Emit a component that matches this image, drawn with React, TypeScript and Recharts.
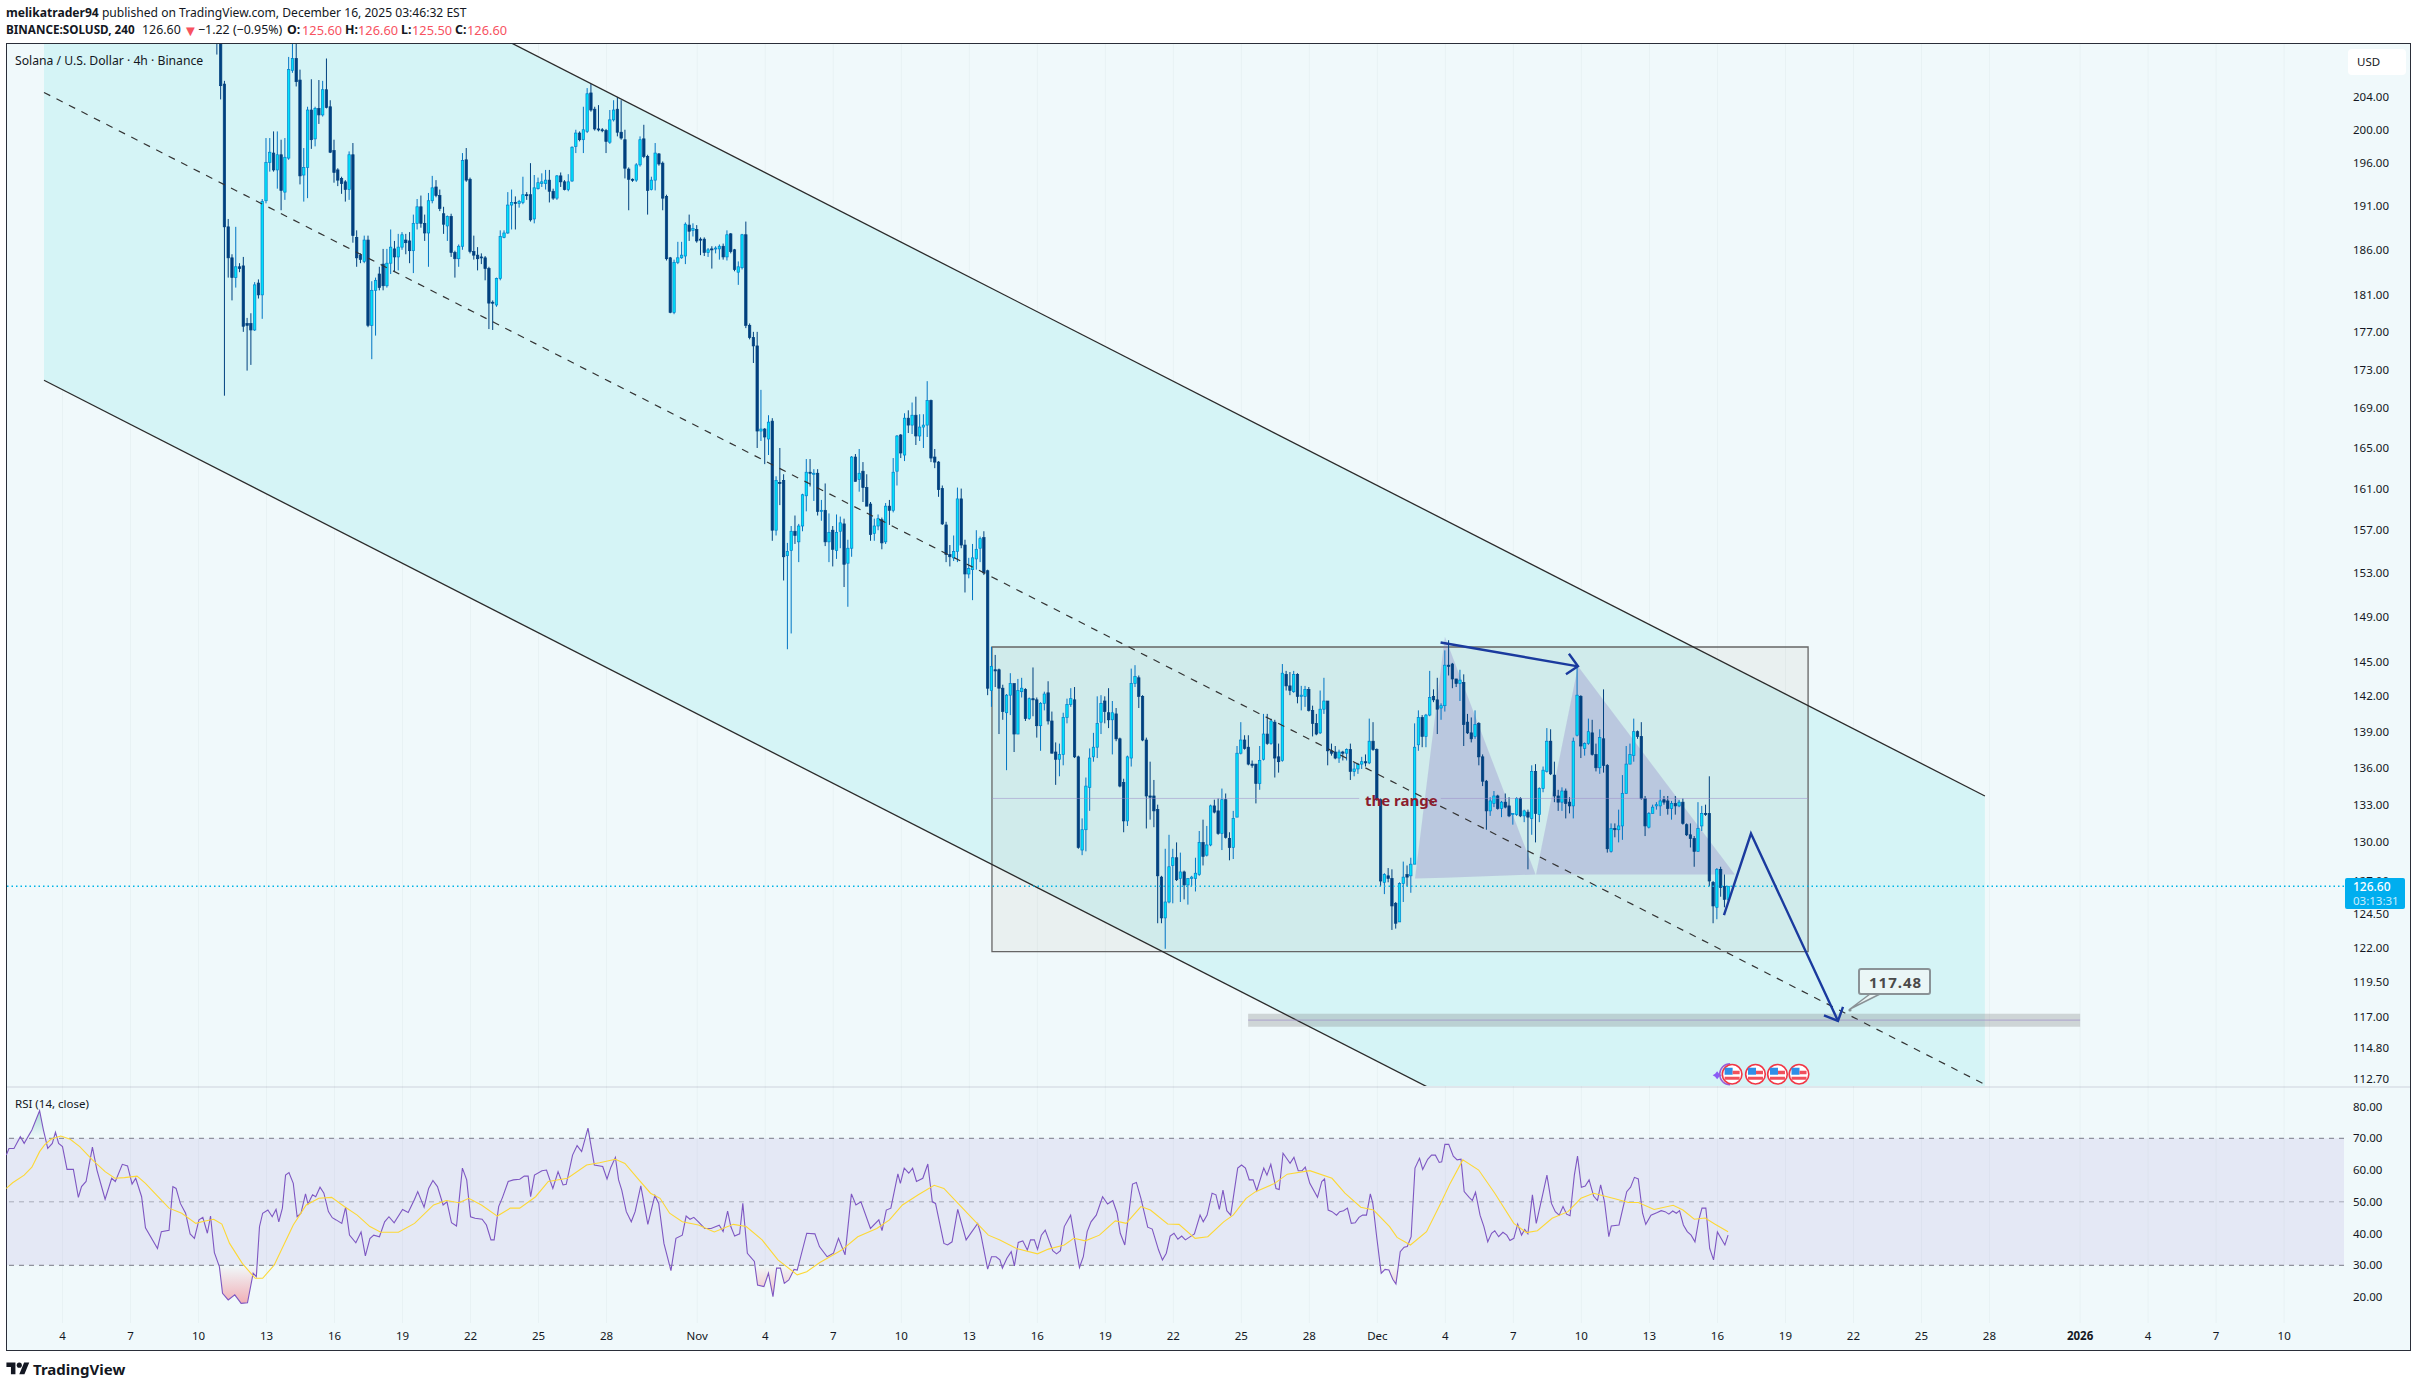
import { Area, Bar, CartesianGrid, ComposedChart, Line, ReferenceArea, ReferenceDot, ReferenceLine, XAxis, YAxis } from "recharts";

// day numbers count from Oct 1 2025 = 0, 4h candles are 1/6 day apart
const firstCandleDay = 9.81;
const opens = [
  222,213,205.6,188.6,185.1,182.9,184.1,184.2,177.9,177.9,
  177.2,182.3,181,191.6,196.1,197.2,195.2,197,192.6,196.6,
  207.3,208.8,206.1,194.6,195.5,202.4,198.9,202.6,201.8,204.9,
  202.8,197.5,195.2,194.2,193.8,192.9,197,187.4,185.4,184.7,
  187.1,177.7,181.5,183.3,184.4,182,184.5,186.1,185.2,186.3,
  187.1,187,185.9,189,190.9,189,187.9,191.6,193.2,192.2,
  190.1,188.7,189.8,185.7,185,186.4,196.4,194.1,185.8,185.4,
  185.2,185.1,183.9,180.2,179.9,182.8,187.4,187.9,191.1,191.4,
  191.3,191.4,192.3,192.3,189.5,193,193.6,193.6,194,192.7,
  191.9,194.5,193.8,192.9,193.9,198,199.6,198.8,199.8,204.5,
  202.5,200.1,200,199.9,198.5,201.2,202.5,199.7,198.8,195.3,
  194.1,194,195.8,198.9,196.8,192.9,194,197.1,196,192.1,
  185.1,179.1,184.6,185.1,185.3,188.8,188.2,188.3,187.2,187.2,
  185.7,186.1,186.1,186.1,186.4,185.2,187.8,186,183.5,184,
  187.7,177.7,176.4,175.5,166.7,166.9,165.9,167.7,157,161.6,
  161.8,154.6,155.1,156.9,155.9,157.4,160.3,162.6,162.4,162.5,
  158.8,158.9,155.9,157,155.1,156.9,157.6,153.9,155.3,164.1,
  161.9,162.7,161.1,159.5,156.7,157.4,158,155.9,159.3,158.9,
  162.7,166.3,164.3,168,167.3,168.3,166.2,167.1,167.3,169.8,
  164.1,163.6,161,157.5,154.7,154.4,155,160,155.6,152.9,
  153.3,154.3,155.3,156.3,153.2,142.5,144.3,144.3,142.7,140.6,
  142.1,143.1,138.8,142.4,142.6,140.1,141.8,141.7,139.5,141.4,
  142.3,139.9,137.3,136.7,137.1,140.2,141.3,141.7,136.9,129.4,
  131,134.4,136.9,137.7,139.8,141.6,140.6,140,140.5,138.4,
  134.8,131.7,136.8,143.1,143.6,142,138.3,133.7,133.7,132.6,
  127.3,124.2,125.4,128.2,128.8,127.2,127.7,126.7,127.2,127.2,
  127.5,130,129,129.8,132.9,132.5,130.7,133.4,130.3,129.6,
  132,137.2,138.3,137.7,136.3,136.3,134.7,136.7,138.8,138,
  139.8,136.9,136.6,143.9,142.9,142.4,143.9,142,142,142.6,
  140.8,139.7,138.9,140.9,141.6,137.4,137.3,136.8,137.3,137.2,
  137.5,135.7,135.9,136.3,136.5,136.4,138.2,137.5,133.4,126.9,
  127.4,127.2,125.3,123.9,126.8,127.5,127.4,128.3,137.9,140.2,
  138.6,140.4,142,141.7,141,141.2,144.7,144.8,143.5,143.1,
  143.2,139.8,138.9,138.6,139.7,136.9,134.9,132.5,133.1,133.7,
  132.7,133.2,132.9,132.2,132.2,133.5,132.1,132.4,131.9,135.7,
  132.2,134.3,135.7,138.2,135.4,133.7,133.2,134.1,133.2,132.9,
  138.7,142,137.6,138,138.9,137.1,136,138.4,136.2,129.3,
  131.1,131,131.3,133.9,136.3,137,139,138.6,133.5,131.2,
  132.3,132.9,132.9,133.4,133.3,132.7,133.1,132.9,133.2,131.4,
  130.6,130.3,129.3,131.3,132.3,132.3,126.9,125,127.9,126.6,125.6,
];
const highs = [
  224,214,206,189.5,185.5,188.6,184.5,185.2,178.5,179,
  182.4,182.7,191.8,199,199,199.8,199.8,198.8,199,209,
  210.8,211.5,207.4,197.8,202.8,206.2,202.8,206.1,206,208.8,
  203.6,198.8,195.4,194.4,194,197.4,198.4,188.2,185.6,187.6,
  187.6,182.5,182.9,184.1,186.1,186.1,188.3,187,187.8,188,
  187.8,188,190,191.8,192.2,190,192.5,194.5,194,192.9,
  190.9,189.9,190.1,185.9,186.6,197.2,197.8,194.3,187.6,186.3,
  185.6,185.3,184.1,180.4,182.9,188.2,188.2,192.6,192.9,192.1,
  191.7,194.4,192.6,196,194.6,194.3,194.8,195.2,195.2,193,
  194.6,194.9,194,194.7,198,200,199.8,202.8,205.1,205.6,
  202.8,203,200.2,200.1,202.4,203.6,204,203.6,200,195.5,
  194.2,196,199.2,200.6,197,194.4,198.4,197.2,196.2,192.3,
  185.2,184.9,186.9,186.9,189.1,190,189,188.8,187.4,187.4,
  186.2,186.4,186.4,186.6,186.7,188.2,187.9,186.1,184.7,187.8,
  189.2,177.9,177,177,170.9,167,168.3,168,162.2,165,
  162.4,155.8,157.4,158.4,157.6,160.5,163.9,163.9,162.9,162.9,
  159.9,161.5,158.6,157.4,158.5,158.3,158.1,156.1,164.2,164.4,
  164.9,163.6,162.4,159.7,158.1,158.5,158.2,159.6,159.9,164,
  166.3,166.4,168.5,168.8,169.6,170.2,168.4,168.4,171.8,169.9,
  164.9,163.7,161.3,157.8,155.6,156.5,161.1,161,156.1,154.4,
  155.7,157,156.4,156.9,153.3,146.3,145.6,144.4,143,142.2,
  144,143.1,143.5,143.6,142.7,141.9,144.5,141.9,141.5,142.4,
  143.3,140.7,138.1,138,140.6,141.8,142.7,142.8,137,131.9,
  135.2,137.6,138.9,142,142.1,142,142.7,141.6,141,138.5,
  135.1,137,144.4,144.7,143.8,142.1,138.5,136.5,135,133,
  127.4,129.5,130.6,129.5,130,129.2,127.8,127.2,127.4,128.8,
  130.9,131.8,131.3,133,133.4,133.5,134.3,133.9,130.8,132.5,
  137.8,139.8,138.7,138.7,136.6,136.3,137.8,140.5,140.5,140.1,
  140,138,144.8,144.2,144.1,144.2,144,142.9,142.9,142.8,
  141.2,140.5,142.5,143.6,141.6,138,137.8,137.5,137.4,137.6,
  138,136.4,136.4,136.9,137.1,140.1,139.8,137.6,133.5,127.6,
  128,127.9,125.4,126.9,128.5,128.2,128.8,139.7,140.8,140.4,
  140.5,144.2,142.6,143.6,141.4,146,146.9,144.9,143.5,144.3,
  143.9,140.5,140.2,140.8,139.8,137.1,135,133.6,134.1,133.8,
  133.3,133.9,133.6,132.3,133.6,133.6,132.6,132.6,136.2,136.3,
  134.4,136.1,139.3,139.2,136.5,134.2,134.4,134.3,133.6,138.5,
  144.5,142.1,138.1,140.1,140,138,139.2,142.6,136.3,131.5,
  131.5,132.6,135.4,137.8,138,140.1,139.1,139.8,133.7,132.4,
  133,133.2,134.2,133.7,133.7,133.3,133.7,133.4,133.5,131.5,
  131.5,130.5,133.2,132.9,133,135.3,127,128,128.1,127.5,126.6,
];
const lows = [
  209.3,203.7,170.3,182.9,180.4,181.8,183.5,177,172.9,173.5,
  177.1,180.6,178.4,191.3,195,195,193,190.5,191.7,196.4,
  207,205.3,193.5,191.5,191.9,197.7,198,200.7,201.6,202.6,
  197.2,193.7,193.3,192.4,191.5,191.7,186.8,184.1,184.5,184.5,
  177.5,174.1,176.6,181.5,181.5,181.8,183.3,183.6,183.7,186,
  185.5,184.5,183.4,188.3,188.5,187,184.1,191.3,192,190.4,
  187.8,187,185.2,182.9,184.1,186,193.8,185.6,184.9,183.7,
  184.4,182.6,177.3,177.2,179.7,182.6,187.3,187.8,188.3,188.3,
  190.8,191.2,191.7,189.2,189,192.9,193.2,192.9,191.4,191.7,
  191.7,193.2,192.8,192.7,193.8,197.2,198.6,197.2,199.6,202.2,
  199.9,199.8,199.7,197.2,198.3,201,199.2,198.8,194.2,190.5,
  193.8,193.8,195.6,196.6,190,192.8,192.8,195.7,190.5,184.8,
  179,178.9,184.4,185,184.4,187,187.5,186.8,185.4,185.3,
  185.2,183.9,185.6,184.9,184.9,184.8,185.6,183.6,182.1,183.8,
  177.4,176.2,173.7,165,165.7,163.4,164.3,156,156.5,159.4,
  152.3,146.1,147.5,155.7,154,156.9,158.8,161.2,159.8,158.4,
  157.9,155.5,154,153.6,154.3,155.3,151.7,149.9,154.5,161.7,
  160.7,159.7,159.3,156,156,157,155.2,155.7,157.5,158.7,
  161.3,164,163.7,166.5,166.4,165.3,165.7,165,166.1,163.6,
  163,160.2,157.5,154,153.6,154.1,154,155.3,151.2,152.5,
  150.5,153.3,154,152.8,142.1,141.1,142.8,138.8,140,135.8,
  140.4,137.3,138.8,141.9,139.9,140,140.3,138.5,137.4,140.8,
  139.6,137.2,134.6,135.3,136.2,139.7,141.1,136.8,129.5,129,
  129.3,132.5,136.5,136.8,138.8,139.7,139.3,137.1,138.2,134.4,
  130.8,131.3,136.1,142.8,141,138.2,131.1,131.8,131.2,123.8,
  123.8,121.9,125.3,125.3,127,125.4,125.6,125.2,126.6,126.2,
  127.4,128.2,128.9,129.7,132.3,130.6,129.4,130.3,128.6,128.7,
  132,137.1,137.5,136.2,136,133.1,134.2,136.6,137.9,137.9,
  135.2,135.6,136.5,142.5,142.1,142.3,141.4,140.8,141.1,140.7,
  138.6,138.7,138.8,140.5,136.2,137,136.7,136.4,136.6,136.6,
  135,135.3,135.5,135.9,136.1,136.3,137.4,133.3,126.6,126,
  126.9,123.3,123.4,123.9,125.4,126.6,126.1,128.3,137.4,137.7,
  137.7,140.3,141.5,138.8,140,140.7,143.8,142.7,142.8,141.6,
  137.8,138.8,138.1,138.4,136.2,134.5,131,132.1,132.8,132.6,
  132,132.7,132,131.4,132.1,132,131.6,127.9,130.6,130,
  131.6,134,135.6,135.4,133.2,132.5,132.5,131.9,132.3,131.9,
  138.6,136.8,137,137.9,137,135.7,135.5,135.6,129.2,129.2,
  130.4,130,130.2,133.9,136.3,136.5,138.4,133.4,130.5,131.1,
  132.3,132.6,132.1,133,132.2,131.8,132.2,132.8,131.4,130.5,
  129.6,128.1,129.3,130.9,132.1,126.6,123.8,124.1,125.8,125,125.5,
];
const closes = [
  213,205.4,188.6,185.1,182.9,184.1,183.9,177.6,177.7,177.2,
  182.1,181,191.5,196.1,197.3,195.2,197,192.8,196.7,207.4,
  208.8,205.9,194.5,195.5,202.4,198.8,202.6,201.8,204.9,202.7,
  197.3,194.9,194,193.6,192.9,197,187.6,185.1,184.9,187.1,
  177.7,181.5,182.6,181.8,182,184.5,186.3,185.2,186.3,187.7,
  186.8,185.9,189,190.9,189,187.9,191.6,193.1,192.2,190.7,
  188.9,189.8,185.7,185,186.4,196.3,194,185.8,185.4,185,
  185.1,183.9,180.1,180.1,182.8,187.5,187.9,191.1,191.4,191.3,
  191.5,192.3,192.2,189.4,193.1,193.7,193.8,194,192.7,191.9,
  194.5,193.8,192.9,193.8,197.9,199.6,198.8,200,204.4,202.4,
  200.1,200,199.9,198.6,201.2,202.4,199.7,199,195.4,194.1,
  194,195.8,198.8,196.8,192.8,194,197.2,195.9,191.9,185,
  179.1,184.6,185.1,185.4,188.9,188.1,188.4,187,187.1,185.7,
  186,186,186.2,186.4,185.2,187.7,185.8,183.8,184.1,187.7,
  177.7,176.4,175.5,166.7,166.9,166.1,167.6,157,161.8,161.5,
  154.5,155,156.9,156.5,157.4,160.4,162.6,162.5,162.5,158.8,
  158.9,155.9,156.8,155.2,156.8,157.7,153.8,155.3,164.1,161.7,
  162.5,161.1,159.3,156.6,157.4,158.1,155.8,159.3,158.9,162.6,
  166.2,164.5,168,167.3,168.3,166.2,167.1,167.3,169.8,164,
  163.6,160.9,157.6,154.7,154.5,155,160,155.6,152.9,153.4,
  154.4,155.2,156.2,153,142.7,144.6,144.2,142.7,140.7,142.1,
  143.1,138.8,142.5,142.7,140.1,141.8,141.7,139.5,141.4,142.2,
  139.9,137.2,136.7,137.1,140.2,141.3,141.8,136.9,129.6,131,
  134.5,136.8,137.7,139.7,141.4,140.7,140,140.6,138.4,134.5,
  131.7,136.9,143.1,143.7,142,138.3,133.7,133.6,132.5,127.4,
  124.2,125.4,128.1,128.8,127.1,127.7,126.7,127.2,127.3,127.6,
  130,128.9,129.8,132.9,132.4,130.7,133.4,130.4,129.6,131.9,
  137.2,138.3,137.6,136.3,136.2,134.7,136.6,138.8,138,139.9,
  136.8,136.5,144,142.9,142.5,143.9,142,142.1,142.6,140.8,
  139.7,138.8,140.9,141.6,137.4,137.2,136.8,137.3,137.2,137.5,
  135.7,135.9,136.3,136.5,136.4,138.2,137.5,133.4,127,127.5,
  127.2,125.1,123.8,126.8,127.3,127.3,128.3,137.7,140.2,138.6,
  140.4,141.9,141.7,140.9,141.2,144.7,144.6,143.5,143.1,143.4,
  139.6,138.9,138.4,139.6,136.9,134.9,132.5,133.3,133.7,132.7,
  133.2,132.8,132.1,132.3,133.5,132.1,132.5,132,135.7,132.3,
  134.3,135.8,138.2,135.5,133.7,133.2,134.1,133.1,132.9,138.2,
  142.1,137.8,138,139,137.1,136,138.5,136.2,129.5,131.1,
  131,131.3,133.9,136.3,137.1,139,138.6,133.5,131.3,132.3,
  132.8,133,133.3,133.2,132.7,133.1,132.9,133.2,131.5,130.6,
  130.3,129.3,131.1,132.3,132.2,127,125.1,127.9,126.5,125.6,126.6,
];

const rsiDays = [
  0.52,0.64,0.86,1.14,1.31,1.65,1.99,2.16,2.35,2.55,2.69,2.83,3,3.2,3.48,3.7,3.84,4.04,4.32,4.52,4.88,5.17,5.33,5.64,5.87,6.07,6.23,6.49,6.66,7.19,7.36,7.7,7.87,8.01,8.2,8.43,8.63,8.82,9.02,9.19,9.39,9.53,9.7,9.92,10.06,10.31,10.6,10.88,11.16,11.41,11.55,11.69,11.83,12.06,12.25,12.42,12.54,12.7,12.84,12.99,13.18,13.35,13.52,13.72,13.83,14.03,14.17,14.36,14.53,14.73,14.9,15.07,15.32,15.49,15.66,15.94,16.17,16.36,16.56,16.73,16.98,17.21,17.4,17.63,18,18.25,18.53,18.67,18.95,19.15,19.34,19.54,19.79,19.96,20.16,20.38,20.64,20.83,21,21.2,21.51,21.7,21.9,22.04,22.24,22.41,22.66,22.89,23.17,23.37,23.54,23.65,23.82,24.15,24.35,24.63,24.86,25.08,25.22,25.5,25.7,25.9,26.18,26.46,26.83,27.02,27.19,27.39,27.53,27.67,27.87,28.09,28.26,28.51,28.82,29.13,29.3,29.53,29.84,30.06,30.34,30.51,30.68,30.85,31.05,31.33,31.61,31.97,32.14,32.34,32.48,32.65,32.87,33.01,33.21,33.52,33.66,33.94,34.14,34.34,34.5,34.67,34.84,35.04,35.27,35.41,35.83,36.19,36.39,36.73,37.01,37.23,37.52,37.8,38,38.22,38.64,39.01,39.15,39.34,39.54,39.85,39.96,40.13,40.33,40.5,40.67,40.95,41.17,41.37,41.51,41.88,42.04,42.24,42.49,42.72,42.86,43.37,43.5,43.81,43.98,44.18,44.35,
  44.46,44.66,44.85,44.99,45.16,45.36,45.56,45.7,45.87,46.01,46.18,46.35,46.68,46.85,47.02,47.19,47.47,47.86,48.03,48.2,48.37,48.6,48.88,49.1,49.33,49.52,49.66,49.86,50.2,50.37,50.57,50.87,51.07,51.35,51.52,51.69,51.86,52.03,52.2,52.37,52.53,52.7,52.93,53.18,53.32,53.49,53.71,53.88,54.03,54.19,54.36,54.53,54.84,55.01,55.18,55.35,55.52,55.68,55.99,56.13,56.3,56.53,56.67,56.84,57.15,57.32,57.51,57.68,57.82,58.02,58.36,58.55,58.67,58.83,59,59.2,59.34,59.51,59.68,59.85,60.02,60.19,60.35,60.52,60.69,60.8,60.97,61.17,61.34,61.51,61.68,61.82,62.01,62.18,62.32,62.49,62.66,62.86,63,63.22,63.39,63.56,63.73,63.84,63.98,64.15,64.35,64.52,64.69,64.83,65.05,65.19,65.33,65.53,65.7,65.87,66.04,66.18,66.35,66.54,66.71,66.85,67.02,67.19,67.36,67.5,67.64,67.84,68.01,68.29,68.48,68.68,68.85,69.02,69.19,69.35,69.5,69.69,69.83,70,70.17,70.34,70.54,70.71,70.85,71.02,71.21,71.32,71.66,72,72.17,72.34,72.51,72.7,72.84,73.07,73.35,73.52,73.69,73.86,74.03,74.19,74.33,74.5,74.67,74.84,75.01,75.18,75.32,75.49,75.66,75.83,76,76.33,76.47,
];
const rsiValues = [
  64.7,66.8,66.8,70.5,68.4,72.6,78.7,72.6,66.8,68.4,71.9,68.4,67.4,60.2,60.2,51.4,54.8,56.4,67.2,60,50.8,57.4,56.4,61.8,61.3,55.6,57.4,51.6,41.8,35.3,40.6,41,54.8,54.2,49.5,46.4,39.9,38.5,44.3,45.1,40.1,45.5,34,29.6,21.2,19.1,20.7,18,18.2,27.5,26.4,42.2,46.4,47.4,45.3,47.6,43.7,48,58.4,59.2,55.8,45.3,46.4,52.5,49.3,52.2,51.6,54.6,52.7,46.9,45,44.3,43.2,48.3,39.5,37.1,40.5,33,38.4,39.5,39,43.7,45.3,43.4,47.6,46.6,50.8,53.2,48.3,54.2,56.7,54.8,49,50,43.4,42.4,60.6,56.9,45.3,44.8,44.5,42.7,38,38,48.5,51.4,56.4,56.9,57.1,58.1,58.1,51.6,58.4,59.8,60,54.2,59.5,55.3,55.5,64.7,67.7,65.8,73.2,61.6,61.1,57.2,60.9,64,56.9,53.7,46.9,43.7,46.9,55,42.9,52,49.5,36.9,28.3,38.5,39.5,45.5,44.5,45.1,43.7,41.6,41.6,42.6,40.6,47.1,42.2,39.2,39.9,49.5,33.8,31.2,23.8,23.3,27.5,20.1,29.1,29.1,24.3,25.4,28.7,28.5,40.1,39.9,35.9,32.7,33.8,38.5,33.3,52.5,49,50,41.6,44.3,40.9,47.4,48,58.8,55.8,60.6,59,60.6,56.4,57.4,61.9,50,49.5,36.9,36.4,37.4,47.6,41.6,38,43.2,40.1,28.8,32.7,32.7,31.7,
  29.1,32.2,34.3,29.8,37.2,37.7,34.8,38,38,35,39.5,41.1,34.6,33.6,34.6,42.2,45.8,29.3,32.7,40.6,43.7,45.8,51.6,49.3,50.4,46.4,40.1,36.4,55.6,56.1,51.1,42,41.4,34.8,31.7,33.8,39.2,40.1,38.2,39.2,38,38.8,39.9,45.8,43.7,45.8,52.7,52.2,47.6,53.7,47.2,45.8,60.6,61.6,60.6,56.9,56.9,53.5,60.6,58.4,61.8,54.2,53.9,65.3,62.1,64,59.8,59.8,60.9,55.8,51.4,56.4,57.2,47.4,46.9,45.8,46.9,47.2,48,43.2,43.4,45.1,45.8,45.8,52.5,49.5,39,27.5,28.7,28.5,25.6,24.1,34.3,35.7,35.9,39,60.6,63.7,60.2,63.4,64.7,64.7,62.4,62.6,68.1,68.1,64.4,63.2,63.4,53.2,51.4,50.4,53,45.8,42.2,37.4,40.1,40.9,39,40.4,39.5,37.8,38.5,43,39.5,41.3,39.9,52.2,43.2,52.2,58.4,49.5,46.9,45.8,48.5,46.1,45.6,58.4,64.4,54.6,55,56.9,51.8,50.4,55.3,50,39,42.4,42.7,53.2,54.6,57.7,57.2,46.4,42.9,45.8,46.6,47.2,46.9,46.1,47.1,46.4,47.2,42.7,40.6,39.5,37.4,44.3,48,48,35.3,31.7,40.5,36.4,39.5,
];
const smaDays = [
  0.52,0.8,1.31,1.65,1.99,2.21,2.49,2.92,3.34,3.76,4.32,4.88,5.31,5.73,6.29,6.66,7.14,7.7,8.26,8.88,9.24,9.67,10.03,10.37,10.93,11.5,11.83,12.34,12.76,13.18,13.75,14.31,14.87,15.43,16,16.56,17.04,17.82,18.53,19.37,19.93,20.5,20.92,21.48,22.18,22.75,23.17,23.87,24.43,25.28,26.12,26.69,27.39,27.81,28.37,28.94,29.36,29.78,30.34,31.05,31.75,32.59,33.16,33.86,34.56,35.41,35.83,36.39,37.37,38.08,38.92,39.48,40.05,40.75,41.45,41.88,42.44,43.28,43.84,44.35,
  45.08,46.01,46.49,47.19,47.61,48.12,48.74,49.44,49.92,50.57,50.99,51.75,52.25,52.96,53.52,54.22,54.64,55.21,55.63,56.47,57.03,58.02,59,59.57,60.27,60.83,61.54,61.87,62.46,63.17,63.79,64.21,64.77,65.47,66.18,67.02,67.58,68.06,68.71,69.41,69.98,70.54,71.52,72.08,72.51,73.21,74.05,74.48,74.98,75.46,75.88,76.47,
];
const smaValues = [
  54.2,56,58.4,60.9,65.8,67.9,69.7,70.7,69.7,67.4,63.2,59.5,57.4,57.6,58.1,55.8,52.2,48,46.4,43.2,43.9,44.5,43,36.9,30.6,25.9,25.9,30.1,36.4,42.7,49,51.1,51.4,48.5,45.8,42.2,40.4,40.4,43.2,49,50.4,49.7,51.1,49,45.5,48,48,51.6,56.4,57.4,61.6,62.3,63.4,62.1,57.4,52.7,51.1,46.4,43.7,42.7,40.5,42.9,42.2,38,31.7,27,28,30.8,34.8,39,41.6,44.3,49,52.2,55.2,54.2,50,43.7,39.5,38,
  35.3,33.6,35.1,36.4,38.5,37.7,39.5,44,43.2,48.5,47.4,43,42.9,38.5,39,43.7,45.8,51.1,53.2,55.8,58.7,59.8,57.4,52.7,48.3,47.4,42.2,38.8,36.4,40.6,49.5,55.8,63.2,60,52.7,43.2,40.3,40.9,44.8,46.9,51.1,52.7,50.9,49.8,49.8,47.6,48.9,47.4,44.5,44.9,43,40.6,
];

const priceTicks = [204, 200, 196, 191, 186, 181, 177, 173, 169, 165, 161, 157, 153, 149, 145, 142, 139, 136, 133, 130, 127, 124.5, 122, 119.5, 117, 114.8, 112.7];
const rsiTicks = [20, 30, 40, 50, 60, 70, 80];
const dayTicks = [3, 6, 9, 12, 15, 18, 21, 24, 27, 31, 34, 37, 40, 43, 46, 49, 52, 55, 58, 61, 64, 67, 70, 73, 76, 79, 82, 85, 88, 92, 95, 98, 101];
const dayLabels = ["4", "7", "10", "13", "16", "19", "22", "25", "28", "Nov", "4", "7", "10", "13", "16", "19", "22", "25", "28", "Dec", "4", "7", "10", "13", "16", "19", "22", "25", "28", "2026", "4", "7", "10"];

const lastPrice = 126.6;

// drawings on the chart, in (day, price)
const channelDays = [2.184, 87.8];
const channelUpper = [243.5, 133.7];
const channelMiddle = [204.56, 112.3];
const channelLower = [171.9, 94.4];
const rangeBox = { x1: 44, x2: 80, y1: 121.7, y2: 146.3, mid: 133.5, gapFrom: 60.2, gapTo: 63.8 };
const targetBand = { x1: 55.3, x2: 92, y1: 116.3, y2: 117.2, mid: 116.76 };
const shoulderLeft = [
  { day: 62.66, range: [127.2, 127.2] },
  { day: 63.98, range: [127.25, 147.2] },
  { day: 67.98, range: [127.5, 127.5] },
];
const shoulderRight = [
  { day: 68, range: [127.5, 127.5] },
  { day: 69.85, range: [127.5, 144.6] },
  { day: 76.77, range: [127.5, 127.5] },
];
const topArrow = [{ day: 63.79, price: 146.7 }, { day: 69.85, price: 144.6 }];
const topArrowHead = [{ day: 69.45, price: 145.7 }, { day: 69.85, price: 144.6 }, { day: 69.32, price: 143.9 }];
const pathArrow = [{ day: 76.29, price: 124.4 }, { day: 77.48, price: 130.7 }, { day: 81.32, price: 116.7 }];
const pathArrowHead = [{ day: 80.7, price: 117.1 }, { day: 81.32, price: 116.7 }, { day: 81.54, price: 117.7 }];
const eventDays = [76.65, 77.68, 78.65, 79.6];
const eventPrice = 113;

const candles = closes.map((close, i) => ({
  day: firstCandleDay + i / 6,
  open: opens[i],
  high: highs[i],
  low: lows[i],
  close,
}));
const rsiRows = rsiValues.map((value, i) => ({
  day: rsiDays[i],
  value,
  oversold: [Math.min(value, 30), 30],
  overbought: [70, Math.max(value, 70)],
}));
const smaRows = smaValues.map((value, i) => ({ day: smaDays[i], value }));
const channelRows = channelDays.map((day, i) => ({
  day,
  band: [channelLower[i], channelUpper[i]],
  upper: channelUpper[i],
  middle: channelMiddle[i],
  lower: channelLower[i],
}));

const FONT = '"Noto Sans", sans-serif';
const TEXT = "#131722";
const PLOT_WIDTH = 2404;
const dayDomain = [0.508, 103.64];

function Candle(props: any) {
  const { x, y, width, height, payload } = props;
  const { open, high, low, close } = payload;
  const span = Math.log(high) - Math.log(low);
  const yOf = (p: number) => y + (height * (Math.log(high) - Math.log(p))) / span;
  const up = close >= open;
  const mid = x + width / 2;
  const top = yOf(Math.max(open, close));
  const bottom = yOf(Math.min(open, close));
  return (
    <g>
      <line x1={mid} x2={mid} y1={y} y2={y + height} stroke={up ? "#0074c4" : "#00407f"} strokeWidth={1} />
      <rect
        x={mid - 1.2}
        y={top}
        width={2.4}
        height={Math.max(bottom - top, 1)}
        fill={up ? "#00e0fa" : "#00407f"}
        stroke={up ? "#0080cc" : "#00407f"}
        strokeWidth={0.7}
      />
    </g>
  );
}

function FlagIcon(props: any) {
  const { cx, cy, index } = props;
  return (
    <g>
      {index === 0 && (
        <g>
          <path d={`M${cx - 15} ${cy - 3}l2 2.5l2.5 1.5l-2.5 1.5l-2 2.5l-2 -2.5l-2.5 -1.5l2.5 -1.5z`} fill="#8b5cf6" />
          <path d={`M${cx + 3} ${cy - 10.5}a10.5 10.5 0 0 0 0 21`} transform={`translate(-5 0)`} fill="none" stroke="#9c5cd6" strokeWidth={1.5} />
        </g>
      )}
      <circle cx={cx} cy={cy} r={9.8} fill="#fff" stroke="#f23645" strokeWidth={1.6} />
      <rect x={cx - 7.5} y={cy - 6.5} width={8} height={7} fill="#2f8fe8" />
      <rect x={cx + 0.5} y={cy - 3.5} width={7} height={3.5} fill="#f0505c" />
      <rect x={cx - 7.5} y={cy + 2.5} width={15} height={3} fill="#f0505c" />
    </g>
  );
}

function DayTick(props: any) {
  const { x, y, index } = props;
  const label = dayLabels[index];
  return (
    <text x={x} y={y + 9} textAnchor="middle" fontFamily={FONT} fontSize={11.5} fontWeight={label === "2026" ? 700 : 400} fill={TEXT}>
      {label}
    </text>
  );
}

function thin({ rows, dataKey = "price", color = "#1a3a9e", width = 2.4, dash }: any) {
  return (
    <Line
      data={rows}
      dataKey={dataKey}
      type="linear"
      stroke={color}
      strokeWidth={width}
      strokeDasharray={dash}
      dot={false}
      activeDot={false}
      legendType="none"
      isAnimationActive={false}
    />
  );
}

function MainPane() {
  return (
    <ComposedChart width={PLOT_WIDTH} height={1042} data={candles} margin={{ top: 0, right: 0, bottom: 0, left: 0 }}>
      <CartesianGrid horizontal={false} verticalValues={dayTicks} stroke="#2a2e39" strokeOpacity={0.035} />
      <XAxis dataKey="day" type="number" domain={dayDomain} allowDataOverflow hide ticks={dayTicks} />
      <YAxis
        orientation="right"
        width={66}
        scale="log"
        domain={[112.2, 210.64]}
        allowDataOverflow
        ticks={priceTicks}
        interval={0}
        axisLine={false}
        tickLine={false}
        tickMargin={3}
        tickFormatter={(v: number) => v.toFixed(2)}
        tick={{ fontFamily: FONT, fontSize: 11.5, fill: TEXT }}
      />
      <Area data={channelRows} dataKey="band" type="linear" fill="#d5f4f6" fillOpacity={1} stroke="none" legendType="none" dot={false} activeDot={false} isAnimationActive={false} />
      {thin({ rows: channelRows, dataKey: "upper", color: "#2b2b2b", width: 1.3 })}
      {thin({ rows: channelRows, dataKey: "lower", color: "#2b2b2b", width: 1.3 })}
      {thin({ rows: channelRows, dataKey: "middle", color: "#333", width: 1.2, dash: "7 7" })}
      <ReferenceArea x1={targetBand.x1} x2={targetBand.x2} y1={targetBand.y1} y2={targetBand.y2} fill="#808080" fillOpacity={0.3} stroke="none" />
      <ReferenceLine segment={[{ x: targetBand.x1, y: targetBand.mid }, { x: targetBand.x2, y: targetBand.mid }]} stroke="#9c8cc8" strokeOpacity={0.7} />
      <ReferenceArea x1={rangeBox.x1} x2={rangeBox.x2} y1={rangeBox.y1} y2={rangeBox.y2} fill="#8a7f60" fillOpacity={0.07} stroke="#666" strokeWidth={1.3} />
      <ReferenceLine segment={[{ x: rangeBox.x1, y: rangeBox.mid }, { x: rangeBox.gapFrom, y: rangeBox.mid }]} stroke="#9c8cc8" strokeOpacity={0.5} />
      <ReferenceLine segment={[{ x: rangeBox.gapTo, y: rangeBox.mid }, { x: rangeBox.x2, y: rangeBox.mid }]} stroke="#9c8cc8" strokeOpacity={0.5} />
      <ReferenceLine y={lastPrice} stroke="#00b4e6" strokeWidth={1.3} strokeDasharray="1.5 3" />
      <Bar dataKey={(r: any) => [r.low, r.high]} barSize={3} shape={Candle} legendType="none" isAnimationActive={false} />
      <Area data={shoulderLeft} dataKey="range" type="linear" fill="#816ec1" fillOpacity={0.28} stroke="none" legendType="none" dot={false} activeDot={false} isAnimationActive={false} />
      <Area data={shoulderRight} dataKey="range" type="linear" fill="#816ec1" fillOpacity={0.28} stroke="none" legendType="none" dot={false} activeDot={false} isAnimationActive={false} />
      {thin({ rows: topArrow })}
      {thin({ rows: topArrowHead })}
      {thin({ rows: pathArrow })}
      {thin({ rows: pathArrowHead })}
      {eventDays.map((day, i) => (
        <ReferenceDot key={day} x={day} y={eventPrice} ifOverflow="visible" shape={(p: any) => <FlagIcon {...p} index={i} />} />
      ))}
    </ComposedChart>
  );
}

function RsiPane() {
  return (
    <ComposedChart width={PLOT_WIDTH} height={265} data={rsiRows} margin={{ top: 0, right: 0, bottom: 0, left: 0 }}>
      <defs>
        <linearGradient id="oversoldFill" x1="0" y1="0" x2="0" y2="1">
          <stop offset="0%" stopColor="#f23645" stopOpacity={0} />
          <stop offset="100%" stopColor="#f23645" stopOpacity={0.38} />
        </linearGradient>
        <linearGradient id="overboughtFill" x1="0" y1="1" x2="0" y2="0">
          <stop offset="0%" stopColor="#089981" stopOpacity={0} />
          <stop offset="100%" stopColor="#089981" stopOpacity={0.3} />
        </linearGradient>
      </defs>
      <CartesianGrid horizontal={false} verticalValues={dayTicks} stroke="#2a2e39" strokeOpacity={0.035} />
      <XAxis
        dataKey="day"
        type="number"
        domain={dayDomain}
        allowDataOverflow
        ticks={dayTicks}
        interval={0}
        height={28}
        axisLine={false}
        tickLine={false}
        tick={DayTick}
      />
      <YAxis
        orientation="right"
        width={66}
        domain={[11.83, 86.47]}
        allowDataOverflow
        ticks={rsiTicks}
        interval={0}
        axisLine={false}
        tickLine={false}
        tickMargin={3}
        tickFormatter={(v: number) => v.toFixed(2)}
        tick={{ fontFamily: FONT, fontSize: 11.5, fill: TEXT }}
      />
      <ReferenceArea y1={30} y2={70} fill="#7e57c2" fillOpacity={0.1} stroke="none" />
      <ReferenceLine y={70} stroke="#787b86" strokeDasharray="5 5" />
      <ReferenceLine y={50} stroke="#787b86" strokeOpacity={0.55} strokeDasharray="5 5" />
      <ReferenceLine y={30} stroke="#787b86" strokeDasharray="5 5" />
      <Area dataKey="oversold" type="linear" fill="url(#oversoldFill)" fillOpacity={1} stroke="none" legendType="none" dot={false} activeDot={false} isAnimationActive={false} />
      <Area dataKey="overbought" type="linear" fill="url(#overboughtFill)" fillOpacity={1} stroke="none" legendType="none" dot={false} activeDot={false} isAnimationActive={false} />
      <Line dataKey="value" type="linear" stroke="#7e57c2" strokeWidth={1.1} dot={false} activeDot={false} legendType="none" isAnimationActive={false} />
      <Line data={smaRows} dataKey="value" type="linear" stroke="#fdd835" strokeWidth={1.1} dot={false} activeDot={false} legendType="none" isAnimationActive={false} />
    </ComposedChart>
  );
}

function Label({ x, y, size = 12, weight = 400, color = TEXT, children, style }: any) {
  return (
    <div
      style={{
        position: "absolute",
        left: x,
        top: y,
        transform: "translateY(-50%)",
        fontFamily: FONT,
        fontSize: size,
        fontWeight: weight,
        color,
        whiteSpace: "nowrap",
        lineHeight: 1,
        ...style,
      }}
    >
      {children}
    </div>
  );
}

const RED = "#f7525f";

export default function App() {
  return (
    <div style={{ position: "absolute", left: 0, top: 0, width: 2417, height: 1388, background: "#fff", overflow: "hidden" }}>
      <Label x={6} y={13} size={12.1}>
        <b>melikatrader94</b> published on TradingView.com, December 16, 2025 03:46:32 EST
      </Label>
      <Label x={6} y={29.5} size={11.7} weight={700}>BINANCE:SOLUSD, 240</Label>
      <Label x={142} y={29.5} size={12.4}>126.60</Label>
      <Label x={183} y={29.5} size={15} color={RED}>▼</Label>
      <Label x={198} y={29.5} size={12.4}>−1.22 (−0.95%)</Label>
      <Label x={287} y={29.5} size={12.4} weight={700}>O:</Label>
      <Label x={302} y={29.5} size={12.8} color={RED}>125.60</Label>
      <Label x={345} y={29.5} size={12.4} weight={700}>H:</Label>
      <Label x={358} y={29.5} size={12.8} color={RED}>126.60</Label>
      <Label x={401} y={29.5} size={12.4} weight={700}>L:</Label>
      <Label x={412} y={29.5} size={12.8} color={RED}>125.50</Label>
      <Label x={455} y={29.5} size={12.4} weight={700}>C:</Label>
      <Label x={467} y={29.5} size={12.8} color={RED}>126.60</Label>

      <div style={{ position: "absolute", left: 5.5, top: 43, width: 2403, height: 1306, background: "#f0f9fb", border: "1.5px solid #2a2e39" }} />
      <div style={{ position: "absolute", left: 6, top: 44 }}>
        <MainPane />
      </div>
      <div style={{ position: "absolute", left: 7, top: 1086, width: 2403, height: 1.5, background: "#dfe6ec" }} />
      <div style={{ position: "absolute", left: 6, top: 1086 }}>
        <RsiPane />
      </div>

      <Label x={15} y={60.5} size={12.2}>Solana / U.S. Dollar · 4h · Binance</Label>
      <Label x={15} y={1104} size={11.5}>RSI (14, close)</Label>

      <div style={{ position: "absolute", left: 2348, top: 48.5, width: 58, height: 26, background: "#fff", borderRadius: 4 }} />
      <Label x={2357} y={62} size={11.5}>USD</Label>

      <div style={{ position: "absolute", left: 2345, top: 878, width: 60, height: 31, background: "#00aeef", borderRadius: 2 }} />
      <Label x={2353} y={887} size={12} weight={500} color="#fff">126.60</Label>
      <Label x={2353} y={901} size={11.5} color="#c8ecfb">03:13:31</Label>

      <Label x={1365} y={800} size={15} weight={700} color="#8c1c2e">the range</Label>

      <svg style={{ position: "absolute", left: 0, top: 0 }} width={2417} height={1388}>
        <path d="M1870 994L1850 1009L1880 994" fill="#eaf6f6" stroke="#8a9296" strokeWidth={1.5} />
        <circle cx={1850} cy={1010} r={1.6} fill="#8a9296" />
      </svg>
      <div style={{ position: "absolute", left: 1858, top: 968, width: 69, height: 23, background: "#eaf6f6", border: "2px solid #8a9296", borderRadius: 3, boxSizing: "content-box" }} />
      <Label x={1869} y={981.5} size={15} weight={700} color="#4a4a4a" style={{ letterSpacing: 1 }}>117.48</Label>

      <svg style={{ position: "absolute", left: 6, top: 1360 }} width={24} height={18} viewBox="0 0 36 28">
        <path d="M14 22H7V11H0V4h14v18zM28 22h-8l7.5-18h8L28 22z" fill="#131722" />
        <circle cx={20} cy={8} r={4} fill="#131722" />
      </svg>
      <Label x={33} y={1369} size={15} weight={700}>TradingView</Label>
    </div>
  );
}
